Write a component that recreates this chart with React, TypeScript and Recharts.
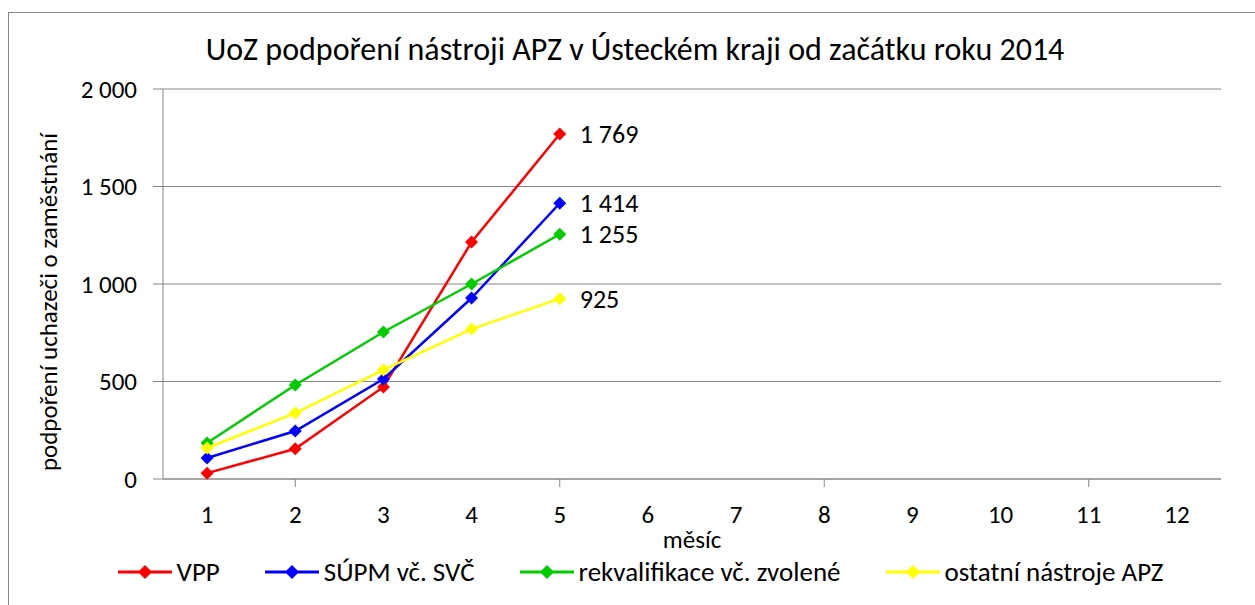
import {
  LineChart,
  Line,
  XAxis,
  YAxis,
  CartesianGrid,
  Legend,
  LabelList,
} from "recharts";

const months = [1, 2, 3, 4, 5];
const monthTicks = [1, 2, 3, 4, 5, 6, 7, 8, 9, 10, 11, 12];
const yTicks = [0, 500, 1000, 1500, 2000];

const vpp = [30, 155, 472, 1215, 1769];
const supm = [108, 246, 513, 928, 1414];
const rekval = [185, 482, 754, 1000, 1255];
const ostatni = [159, 338, 559, 769, 925];

const series = [
  { key: "vpp", name: "VPP", color: "#FF0000", values: vpp },
  { key: "supm", name: "SÚPM vč. SVČ", color: "#0000FF", values: supm },
  { key: "rekval", name: "rekvalifikace vč. zvolené", color: "#00CC00", values: rekval },
  { key: "ostatni", name: "ostatní nástroje APZ", color: "#FFFF00", values: ostatni },
];

const data = months.map((m, i) => {
  const row: Record<string, number> = { m };
  series.forEach((s) => (row[s.key] = s.values[i]));
  return row;
});

// tick marks sit between months, like Excel
const boundaryTicks = [...monthTicks.map((t) => t - 0.5), monthTicks[monthTicks.length - 1] + 0.5];

const FONT = "Carlito, 'Liberation Sans Narrow', 'DejaVu Sans Condensed', sans-serif";

const fmt = (v: number) => String(v).replace(/\B(?=(\d{3})+(?!\d))/g, " ");

const Diamond = (color: string) => (props: any) => {
  const { cx, cy } = props;
  if (cx == null || cy == null) return null;
  const r = 6.5;
  return (
    <polygon
      points={`${cx},${cy - r} ${cx + r},${cy} ${cx},${cy + r} ${cx - r},${cy}`}
      fill={color}
    />
  );
};

const LegendContent = () => (
  <div
    style={{
      display: "flex",
      justifyContent: "center",
      gap: 45,
      fontFamily: FONT,
      fontSize: 27,
      lineHeight: "30px",
      color: "#000",
      paddingTop: 6,
      paddingLeft: 40,
    }}
  >
    {series.map((s) => (
      <div key={s.key} style={{ display: "flex", alignItems: "center", gap: 5 }}>
        <svg width={54} height={16}>
          <line x1={0} y1={8} x2={54} y2={8} stroke={s.color} strokeWidth={3} />
          <polygon points="27,1 34,8 27,15 20,8" fill={s.color} />
        </svg>
        <span>{s.name}</span>
      </div>
    ))}
  </div>
);

const YLabel = () => (
  <text
    x={48}
    y={302}
    transform="rotate(-90, 48, 302)"
    textAnchor="middle"
    dominantBaseline="central"
    fontFamily={FONT}
    fontSize={25}
    fill="#000"
  >
    podpoření uchazeči o zaměstnání
  </text>
);

export default function App() {
  return (
    <div
      style={{
        position: "absolute",
        left: 0,
        top: 0,
        width: 1255,
        height: 605,
        background: "#fff",
        overflow: "hidden",
      }}
    >
      <div
        style={{
          position: "absolute",
          left: 8,
          top: 12,
          width: 1260,
          height: 620,
          border: "1px solid #868686",
        }}
      />
      <div
        style={{
          position: "absolute",
          left: 0,
          top: 30,
          width: 1270,
          textAlign: "center",
          fontFamily: FONT,
          fontSize: 32,
          lineHeight: "40px",
          color: "#000",
        }}
      >
        UoZ podpoření nástroji APZ v Ústeckém kraji od začátku roku 2014
      </div>
      <div style={{ position: "absolute", left: 0, top: 0 }}>
        <LineChart
          width={1255}
          height={605}
          data={data}
          margin={{ top: 89, right: 34, left: 20, bottom: 14 }}
        >
          <CartesianGrid vertical={false} stroke="#868686" />
          <XAxis
            xAxisId="a"
            type="number"
            domain={[0.5, 12.5]}
            ticks={boundaryTicks}
            tick={() => <g />}
            tickSize={8}
            stroke="#868686"
            height={8}
          />
          <XAxis
            xAxisId="b"
            dataKey="m"
            type="number"
            domain={[0.5, 12.5]}
            ticks={monthTicks}
            axisLine={false}
            tickLine={false}
            tick={{ fill: "#000", fontFamily: FONT, fontSize: 25 }}
            tickMargin={12}
            height={64}
            label={{
              value: "měsíc",
              position: "insideTop",
              offset: 43,
              fill: "#000",
              fontFamily: FONT,
              fontSize: 25,
            }}
          />
          <YAxis
            width={143}
            domain={[0, 2000]}
            ticks={yTicks}
            tickFormatter={fmt}
            stroke="#868686"
            tickSize={10}
            tickMargin={16}
            tick={{ fill: "#000", fontFamily: FONT, fontSize: 25 }}
            label={<YLabel />}
          />
          <Legend verticalAlign="bottom" height={40} content={<LegendContent />} />
          {series.map((s) => (
            <Line
              key={s.key}
              xAxisId="b"
              dataKey={s.key}
              name={s.name}
              stroke={s.color}
              strokeWidth={2.5}
              dot={Diamond(s.color)}
              activeDot={false}
              isAnimationActive={false}
            >
              <LabelList
                dataKey={s.key}
                content={(p: any) =>
                  p.index === months.length - 1 ? (
                    <text
                      x={p.x + 20}
                      y={p.y}
                      dominantBaseline="central"
                      fontFamily={FONT}
                      fontSize={26}
                      fill="#000"
                    >
                      {fmt(p.value)}
                    </text>
                  ) : null
                }
              />
            </Line>
          ))}
        </LineChart>
      </div>
    </div>
  );
}
